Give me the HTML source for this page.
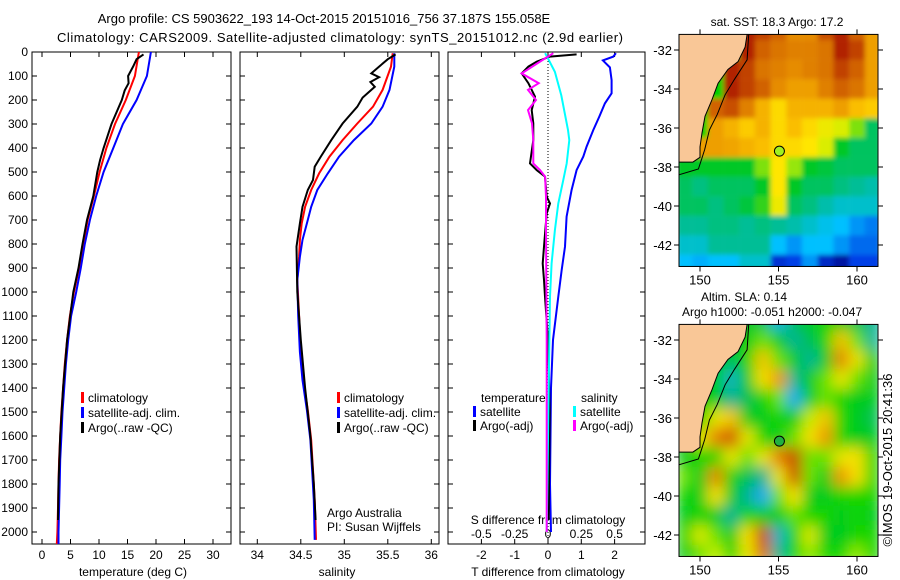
<!DOCTYPE html>
<html><head><meta charset="utf-8"><style>
html,body{margin:0;padding:0;background:#fff;}
svg{display:block;font-family:"Liberation Sans",sans-serif;}
text{font-size:12px;fill:#000;}
</style></head><body>
<svg id="fig" width="900" height="580" viewBox="0 0 900 580" xmlns="http://www.w3.org/2000/svg">
<defs>
<filter id="smooth" x="0" y="0" width="1" height="1"><feGaussianBlur stdDeviation="7" edgeMode="duplicate"/></filter>
<filter id="smooth2" x="0" y="0" width="1" height="1"><feGaussianBlur stdDeviation="2.5" edgeMode="duplicate"/></filter>
<clipPath id="clipTop"><rect x="679" y="34" width="199" height="233"/></clipPath>
<clipPath id="clipBot"><rect x="679" y="324" width="199" height="233"/></clipPath>
</defs>
</svg>
<script>
// ---------- data ----------
const climDepth=[0,100,200,300,400,500,600,700,800,900,1000,1100,1200,1300,1400,1500,1600,1700,1800,1900,2000,2050];
const climT=[17.0,16.3,14.7,12.8,11.3,10.1,9.1,8.0,7.3,6.5,5.6,4.9,4.4,4.0,3.7,3.4,3.2,3.0,2.9,2.8,2.7,2.6];
const satT=[19.1,18.4,16.6,14.2,12.5,10.8,9.5,8.4,7.5,6.8,6.0,5.1,4.6,4.2,3.9,3.6,3.4,3.2,3.1,3.0,2.9,2.9];
const argoTDepth=[10,30,60,100,130,160,200,300,400,450,500,600,700,800,900,1000,1200,1400,1600,1800,1950];
const argoT=[17.8,16.6,16.0,15.1,15.2,14.5,14.0,12.2,10.8,10.2,9.7,9.0,7.9,7.1,6.4,5.5,4.4,3.7,3.2,2.9,2.8];
const sDepth=[5,61,158,228,298,367,436,506,575,645,714,783,853,950,1100,1250,1367,1492,1617,1742,1867,2033];
const climS=[35.556,35.537,35.44,35.33,35.15,34.98,34.83,34.71,34.62,34.55,34.51,34.49,34.48,34.46,34.48,34.5,34.53,34.58,34.62,34.64,34.66,34.675];
const satS=[35.575,35.575,35.52,35.44,35.31,35.11,34.94,34.81,34.69,34.62,34.57,34.52,34.49,34.46,34.47,34.49,34.52,34.57,34.61,34.63,34.65,34.66];
const argoSDepth=[10,30,61,89,105,125,145,190,228,298,367,436,478,533,575,645,714,811,1000,1200,1400,1600,1800,1950];
const argoS=[35.59,35.5,35.40,35.31,35.40,35.30,35.35,35.21,35.15,34.98,34.85,34.73,34.66,34.64,34.58,34.52,34.49,34.45,34.46,34.5,34.55,34.61,34.65,34.67];
const dTsatDepth=[5,19,35,64,117,172,214,269,325,394,436,492,575,686,811,908,1019,1200,1400,1800,2000];
const dTsat=[2.04,1.96,1.65,1.86,1.91,1.91,1.71,1.54,1.36,1.16,1.06,0.86,0.71,0.56,0.51,0.41,0.31,0.15,0.09,0.06,0.09];
const dSsatDepth=[5,27,83,181,325,367,464,533,631,742,881,1019,1400,2000];
const dSsat=[-0.022,0,0.052,0.10,0.15,0.16,0.14,0.115,0.077,0.052,0.027,0.015,0.005,-0.01];
const dTargoDepth=[10,19,40,61,89,130,186,242,297,367,464,492,519,603,631,672,811,881,950,1019,1200,1500,1950];
const dTargo=[0.86,0.06,-0.34,-0.59,-0.79,-0.59,-0.39,-0.49,-0.44,-0.44,-0.54,-0.34,-0.09,-0.04,0.06,-0.04,-0.12,-0.16,-0.12,-0.09,0.0,0.05,0.02];
const dSargoDepth=[5,40,89,130,158,200,242,297,367,464,492,519,603,742,1200,2000];
const dSargo=[0.04,-0.06,-0.197,-0.07,-0.15,-0.09,-0.15,-0.12,-0.11,-0.11,-0.06,-0.022,-0.015,-0.015,-0.01,-0.01];
const depthTicks=[0,100,200,300,400,500,600,700,800,900,1000,1100,1200,1300,1400,1500,1600,1700,1800,1900,2000];
const tempTicks=[0,5,10,15,20,25,30];
const salTicks=[34,34.5,35,35.5,36];
const salTickLabels=["34","34.5","35","35.5","36"];
const dTTicks=[-2,-1,0,1,2];
const dSTicks=[-0.5,-0.25,0,0.25,0.5];
const dSTickLabels=["-0.5","-0.25","0","0.25","0.5"];
const latTicks=[-32,-34,-36,-38,-40,-42];
const lonTicks=[150,155,160];
const gridLons=[149,150,151,152,153,154,155,156,157,158,159,160,161];
const gridLats=[-31,-32,-33,-34,-35,-36,-37,-38,-39,-40,-41,-42,-43];
const N=null;
const sstGrid=[
[N,N,N,N,.95,.9,.85,.78,.78,.88,.95,.85,.75],
[N,N,N,N,.95,.85,.82,.8,.8,.82,.95,.9,.75],
[N,N,N,.95,.9,.82,.8,.78,.8,.82,.9,.85,.75],
[N,N,N,.95,.9,.85,.78,.75,.75,.8,.85,.82,.75],
[N,N,.85,.88,.8,.72,.66,.72,.72,.72,.75,.7,.68],
[N,N,.75,.72,.68,.72,.66,.7,.66,.62,.6,.55,.45],
[N,.75,.75,.74,.72,.7,.66,.66,.64,.6,.5,.45,.45],
[.5,.5,.5,.5,.5,.55,.64,.56,.5,.48,.45,.45,.45],
[.45,.42,.45,.45,.45,.5,.64,.5,.45,.45,.42,.4,.38],
[.45,.45,.42,.45,.48,.52,.62,.45,.42,.38,.35,.35,.35],
[.4,.4,.42,.42,.4,.42,.4,.38,.35,.32,.3,.25,.22],
[.35,.35,.4,.4,.4,.4,.3,.25,.3,.3,.25,.2,.2],
[.3,.28,.3,.3,.35,.35,.12,.15,.25,.1,.05,.15,.15]];
const slaGrid=[
[N,N,N,N,.5,.45,.3,.45,.5,.55,.5,.45,.4],
[N,N,N,N,.5,.6,.5,.4,.45,.55,.75,.6,.4],
[N,N,N,.45,.55,.75,.6,.5,.4,.5,.82,.7,.5],
[N,N,N,.35,.5,.72,.8,.4,.5,.6,.7,.6,.5],
[N,N,.5,.4,.45,.55,.6,.3,.5,.6,.55,.5,.5],
[N,N,.7,.75,.5,.5,.55,.5,.65,.75,.55,.5,.45],
[N,.7,.82,.88,.7,.55,.5,.6,.72,.8,.55,.5,.5],
[.5,.55,.55,.7,.6,.7,.82,.9,.6,.6,.7,.72,.55],
[.6,.5,.82,.55,.45,.4,.7,.88,.6,.5,.8,.72,.55],
[.55,.5,.72,.5,.4,.3,.6,.72,.5,.5,.55,.55,.55],
[.5,.55,.5,.4,.55,.5,.5,.6,.55,.55,.5,.55,.5],
[.55,.68,.6,.5,.72,.9,.35,.55,.68,.5,.5,.55,.55],
[.5,.6,.65,.55,.7,.85,.4,.55,.62,.55,.55,.62,.55]];
const coastLon=[153.0,152.87,152.42,151.78,151.15,150.76,150.32,150.13,150.0,150.0,149.55,148.66,148.66];
const coastLat=[-31.2,-31.85,-32.6,-33.0,-33.7,-34.56,-35.4,-36.25,-36.97,-37.5,-37.75,-37.75,-31.2];
const shelfLon=[153.1,153.0,152.2,151.6,151.1,150.6,150.3,150.1,149.9,148.66];
const shelfLat=[-31.2,-32.5,-33.5,-34.3,-35.3,-36.1,-37.1,-37.6,-38.1,-38.4];
const argoLon=155.058, argoLat=-37.187;

// ---------- helpers ----------
const NS='http://www.w3.org/2000/svg';
const svg=document.getElementById('fig');
function mk(tag,attrs,parent){const e=document.createElementNS(NS,tag);for(const k in attrs)e.setAttribute(k,attrs[k]);(parent||svg).appendChild(e);return e;}
function txt(s,x,y,anchor,parent){const t=mk('text',{x:x,y:y,'text-anchor':anchor||'start'},parent);t.textContent=s;return t;}
const yD=d=>52+d*0.24;
const xT=v=>42+v*5.7;
const xS=v=>257.3+(v-34)*87;
const xdT=v=>548+v*33.3;
const xdS=v=>548+v*133.3;
function poly(xs,ys,fx,color,parent){
  let p='';for(let i=0;i<xs.length;i++){p+=(i?'L':'M')+fx(xs[i]).toFixed(1)+' '+yD(ys[i]).toFixed(1);}
  return mk('path',{d:p,fill:'none',stroke:color,'stroke-width':2,'stroke-linejoin':'miter'},parent);
}
function panelFrame(x0,x1,name,showLabels){
  const g=mk('g',{});
  
  
  const r=mk('rect',{x:x0,y:52,width:x1-x0,height:492,fill:'#fff',stroke:'#000','stroke-width':1},g);
  
  
  depthTicks.forEach(d=>{
    mk('line',{x1:x0,x2:x0+5,y1:yD(d),y2:yD(d),stroke:'#000'},g);
    mk('line',{x1:x1-5,x2:x1,y1:yD(d),y2:yD(d),stroke:'#000'},g);
    if(showLabels){const t=txt(String(d),28,yD(d)+4,'end',g);
      
      }
  });
  return g;
}
function xTicks(g,vals,labels,fx,ly){
  vals.forEach((v,i)=>{
    mk('line',{x1:fx(v),x2:fx(v),y1:52,y2:57,stroke:'#000'},g);
    mk('line',{x1:fx(v),x2:fx(v),y1:539,y2:544,stroke:'#000'},g);
    if(labels){const t=txt(labels[i],fx(v),ly,'middle',g);
      
      }
  });
}
function legendEntry(g,color,label,x,y){
  const b=mk('rect',{x:x,y:y-10,width:3,height:11,fill:color},g);
  
  
  const t=txt(label,x+7,y,'start',g);
  
  
}

// ---------- titles ----------
let t1=txt('Argo profile: CS 5903622_193 14-Oct-2015 20151016_756 37.187S 155.058E',324,23,'middle');


t1.setAttribute('style','font-size:13px');
let t2=txt('Climatology: CARS2009. Satellite-adjusted climatology: synTS_20151012.nc (2.9d earlier)',340,42,'middle');


t2.setAttribute('style','font-size:13px');
t2.setAttribute('textLength','566');

// ---------- temperature panel ----------
const gT=panelFrame(32,231,'temperature-panel',true);
xTicks(gT,tempTicks,tempTicks.map(String),xT,559);
let at=txt('temperature (deg C)',133,576,'middle',gT);


let l1=poly(climT,climDepth,xT,'#ff0000',gT);


let l2=poly(satT,climDepth,xT,'#0000ff',gT);


let l3=poly(argoT,argoTDepth,xT,'#000000',gT);


legendEntry(gT,'#ff0000','climatology',81,402);
legendEntry(gT,'#0000ff','satellite-adj. clim.',81,417);
legendEntry(gT,'#000000','Argo(..raw -QC)',81,432);

// ---------- salinity panel ----------
const gS=panelFrame(240,439,'salinity-panel',false);
xTicks(gS,salTicks,salTickLabels,xS,559);
let as=txt('salinity',337,576,'middle',gS);


let s1=poly(climS,sDepth,xS,'#ff0000',gS);


let s2=poly(satS,sDepth,xS,'#0000ff',gS);


let s3=poly(argoS,argoSDepth,xS,'#000000',gS);


legendEntry(gS,'#ff0000','climatology',337,402);
legendEntry(gS,'#0000ff','satellite-adj. clim.',337,417);
legendEntry(gS,'#000000','Argo(..raw -QC)',337,432);
let aa=txt('Argo Australia',327,517,'start',gS);


let pi=txt('PI: Susan Wijffels',327,531,'start',gS);



// ---------- difference panel ----------
const gD=panelFrame(448,645,'difference-panel',false);
xTicks(gD,dTTicks,dTTicks.map(String),xdT,559);
let zl=mk('line',{x1:548,x2:548,y1:52,y2:544,stroke:'#000','stroke-dasharray':'1,2'},gD);


let ad=txt('T difference from climatology',548,576,'middle',gD);


let sd=txt('S difference from climatology',548,524,'middle',gD);


dSTicks.forEach((v,i)=>{const t=txt(dSTickLabels[i],xdS(v),538,'middle',gD);
  
  });
let d1=poly(dTsat,dTsatDepth,xdT,'#0000ff',gD);


let d2=poly(dTargo,dTargoDepth,xdT,'#000000',gD);


let d3=poly(dSsat,dSsatDepth,xdS,'#00ffff',gD);


let d4=poly(dSargo,dSargoDepth,xdS,'#ff00ff',gD);


let lt=txt('temperature',481,402,'start',gD);


let ls=txt('salinity',581,402,'start',gD);


legendEntry(gD,'#0000ff','satellite',473,416);
legendEntry(gD,'#000000','Argo(-adj)',473,430);
legendEntry(gD,'#00ffff','satellite',573,416);
legendEntry(gD,'#ff00ff','Argo(-adj)',573,430);

// ---------- maps ----------
const mx=lon=>700+(lon-150)*15.7;
function lerpColor(stops,v){
  if(v<=stops[0][0])return 'rgb('+stops[0][1].join(',')+')';
  for(let i=1;i<stops.length;i++){if(v<=stops[i][0]){const a=stops[i-1],b=stops[i];const f=(v-a[0])/(b[0]-a[0]);
    const c=[0,1,2].map(k=>Math.round(a[1][k]+(b[1][k]-a[1][k])*f));return 'rgb('+c.join(',')+')';}}
  const l=stops[stops.length-1][1];return 'rgb('+l.join(',')+')';
}
const sstStops=[[0,[0,0,128]],[0.15,[0,64,230]],[0.3,[0,192,255]],[0.4,[0,190,150]],[0.5,[0,200,40]],[0.58,[200,240,0]],[0.64,[255,230,0]],[0.7,[250,190,0]],[0.78,[230,140,0]],[0.88,[200,80,0]],[1,[160,0,0]]];
const slaStops=[[0.3,[30,170,240]],[0.4,[0,180,150]],[0.48,[0,200,40]],[0.56,[20,215,0]],[0.64,[190,240,0]],[0.72,[245,225,0]],[0.8,[240,150,0]],[0.9,[200,70,0]]];
function drawMap(y32,grid,stops,name,clipId,blurId,markerFill){
  const my=lat=>y32+(-32-lat)*19.5;
  const y0=my(-31.2), y1=my(-43.1);
  const g=mk('g',{});
  
  
  const cg=mk('g',{'clip-path':'url(#'+clipId+')'},g);
  const hg=mk('g',{filter:'url(#'+blurId+')'},cg);
  grid.forEach((row,i)=>row.forEach((v,j)=>{
    const c=mk('rect',{x:mx(gridLons[j]-0.5),y:my(gridLats[i]+0.5),width:15.9,height:19.7,fill:v===null?'#00d000':lerpColor(stops,v)},hg);
    
    
  }));
  let p='';coastLon.forEach((lo,i)=>{p+=(i?'L':'M')+mx(lo).toFixed(1)+' '+my(coastLat[i]).toFixed(1);});
  const land=mk('path',{d:p+'Z',fill:'#f9c797',stroke:'none'},cg);
  
  
  let pc='';coastLon.slice(0,11).forEach((lo,i)=>{pc+=(i?'L':'M')+mx(lo).toFixed(1)+' '+my(coastLat[i]).toFixed(1);});
  pc+='L'+mx(148.66)+' '+my(-37.75);
  const cl=mk('path',{d:pc,fill:'none',stroke:'#000','stroke-width':1},cg);
  
  
  let ps='';shelfLon.forEach((lo,i)=>{ps+=(i?'L':'M')+mx(lo).toFixed(1)+' '+my(shelfLat[i]).toFixed(1);});
  const sl=mk('path',{d:ps,fill:'none',stroke:'#000','stroke-width':1},cg);
  
  
  const mkr=mk('circle',{cx:mx(argoLon),cy:my(argoLat),r:5,fill:markerFill,stroke:'#000','stroke-width':1},g);
  
  
  const fr=mk('rect',{x:679,y:y0,width:199,height:y1-y0,fill:'none',stroke:'#000'},g);
  
  
  latTicks.forEach(la=>{
    mk('line',{x1:674,x2:679,y1:my(la),y2:my(la),stroke:'#000'},g);
    mk('line',{x1:878,x2:883,y1:my(la),y2:my(la),stroke:'#000'},g);
    const t=txt(String(la),672,my(la)+5,'end',g);
    
    
    t.setAttribute('style','font-size:13px');
  });
  lonTicks.forEach(lo=>{
    mk('line',{x1:mx(lo),x2:mx(lo),y1:y0-5,y2:y0,stroke:'#000'},g);
    mk('line',{x1:mx(lo),x2:mx(lo),y1:y1,y2:y1+5,stroke:'#000'},g);
    const t=txt(String(lo),mx(lo),y1+18,'middle',g);
    
    
    t.setAttribute('style','font-size:13px');
  });
  return g;
}
drawMap(50,sstGrid,sstStops,'sst-map','clipTop','smooth2','#a0f020');
drawMap(340,slaGrid,slaStops,'sla-map','clipBot','smooth','#20b040');
let mt1=txt('sat. SST: 18.3 Argo: 17.2',777,26,'middle');


let mt2=txt('Altim. SLA: 0.14',701,301,'start');


let mt3=txt('Argo h1000: -0.051 h2000: -0.047',682,316,'start');


let cr=txt('\u00A9IMOS 19-Oct-2015 20:41:36',0,0,'middle');
cr.setAttribute('transform','translate(892,460) rotate(-90)');


cr.setAttribute('style','font-size:13px');
</script>
</body></html>
